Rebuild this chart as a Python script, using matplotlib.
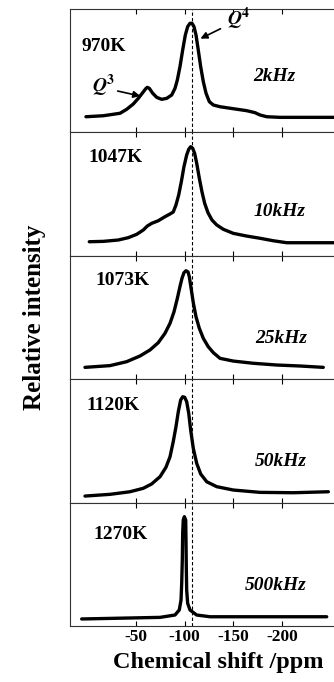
import numpy as np
import matplotlib as mpl
import matplotlib.pyplot as plt

# spectra: (chemical shift in ppm, relative intensity)
ppm_970 = [1.4, -16.4, -33.6, -40.4, -47.2, -52.4, -56.9, -60.0, -61.6, -63.7, -67.2,
           -71.3, -76.4, -81.6, -86.7, -90.1, -92.5, -95.2, -98.0, -100.7, -103.1,
           -105.5, -107.6, -109.6, -111.7, -114.0, -116.5, -119.2, -122.0, -125.4,
           -129.5, -136.4, -150.0, -163.8, -172.3, -177.5, -184.4, -198.0, -253.5]
int_970 = [0.127, 0.135, 0.155, 0.187, 0.230, 0.276, 0.322, 0.354, 0.365, 0.357, 0.317,
           0.284, 0.268, 0.276, 0.303, 0.357, 0.425, 0.532, 0.668, 0.789, 0.857,
           0.884, 0.884, 0.857, 0.789, 0.668, 0.532, 0.411, 0.317, 0.249,
           0.222, 0.208, 0.192, 0.176, 0.160, 0.141, 0.127, 0.122, 0.122]

ppm_1047 = [-2.0, -16.4, -31.8, -42.1, -50.7, -57.5, -61.6, -66.1, -72.9, -79.8, -85.0,
            -88.3, -91.1, -93.9, -96.6, -99.3, -102.1, -104.2, -106.2, -108.3, -110.3,
            -112.4, -115.1, -117.8, -120.6, -124.0, -128.1, -133.0, -139.7, -150.0,
            -163.8, -177.5, -191.1, -204.9, -253.5]
int_1047 = [0.114, 0.117, 0.128, 0.147, 0.174, 0.209, 0.241, 0.263, 0.284, 0.317, 0.339,
            0.355, 0.412, 0.493, 0.600, 0.722, 0.817, 0.863, 0.884, 0.871, 0.830,
            0.750, 0.628, 0.519, 0.425, 0.349, 0.290, 0.250, 0.215, 0.182,
            0.160, 0.142, 0.122, 0.106, 0.106]

ppm_1073 = [2.4, -23.3, -40.4, -54.1, -64.4, -72.9, -79.8, -85.0, -89.1, -92.5, -95.2,
            -97.3, -99.3, -101.4, -103.5, -104.8, -106.9, -109.0, -111.7, -115.1,
            -119.2, -124.3, -129.5, -136.4, -150.0, -170.6, -194.6, -218.6, -242.5]
int_1073 = [0.096, 0.110, 0.142, 0.188, 0.237, 0.296, 0.372, 0.453, 0.547, 0.655, 0.750,
            0.818, 0.863, 0.879, 0.869, 0.831, 0.723, 0.615, 0.506, 0.412,
            0.331, 0.263, 0.215, 0.169, 0.147, 0.129, 0.115, 0.107, 0.096]

ppm_1120 = [2.4, -23.3, -43.8, -57.5, -66.1, -74.7, -80.8, -85.0, -88.3, -91.1, -93.5,
            -95.9, -98.0, -100.1, -102.1, -104.2, -106.2, -108.9, -112.4, -116.5,
            -122.7, -133.0, -150.0, -177.5, -211.7, -247.7]
int_1120 = [0.053, 0.067, 0.088, 0.116, 0.151, 0.210, 0.286, 0.372, 0.494, 0.615, 0.737,
            0.831, 0.858, 0.853, 0.818, 0.724, 0.588, 0.440, 0.318, 0.232,
            0.169, 0.129, 0.102, 0.083, 0.080, 0.088]

ppm_1270 = [5.8, -43.8, -74.7, -90.1, -94.5, -96.3, -97.0, -97.6, -98.0, -98.6, -99.7,
            -101.1, -101.4, -101.7, -102.1, -103.1, -105.5, -112.4, -126.1, -246.0]
int_1270 = [0.057, 0.065, 0.070, 0.089, 0.130, 0.211, 0.348, 0.535, 0.754, 0.859, 0.886,
            0.859, 0.697, 0.481, 0.292, 0.184, 0.130, 0.089, 0.075, 0.075]

temps = ['970K', '1047K', '1073K', '1120K', '1270K']
rates = ['2kHz', '10kHz', '25kHz', '50kHz', '500kHz']
spectra = [(ppm_970, int_970), (ppm_1047, int_1047), (ppm_1073, int_1073),
           (ppm_1120, int_1120), (ppm_1270, int_1270)]
tick_ppm = [-50, -100, -150, -200]
tick_labels = ['-50', '-100', '-150', '-200']
ref_ppm = -107.6

# label placement (ppm, intensity)
temp_pos = [(5.5, 0.70), (-0.7, 0.80), (-7.9, 0.80), (1.4, 0.79), (-5.8, 0.74)]
rate_pos = [(-170.3, 0.45), (-171.3, 0.36), (-172.3, 0.33), (-172.3, 0.33), (-162.0, 0.33)]

mpl.rcParams['font.family'] = ['Liberation Serif', 'DejaVu Serif']
mpl.rcParams['mathtext.fontset'] = 'stix'

fig, axes = plt.subplots(5, 1, figsize=(3.34, 6.82), dpi=100, sharex=True)
fig.subplots_adjust(left=0.2096, right=1.0, top=0.9868, bottom=0.0821, hspace=0)

for i, ax in enumerate(axes):
    x, y = spectra[i]
    ax.plot(x, y, color='black', lw=2.4, solid_capstyle='round', solid_joinstyle='round')
    ax.axvline(ref_ppm, color='black', lw=0.8, ls=(0, (3, 2)))
    ax.set_xlim(17.8, -253.5)
    ax.set_ylim(0, 1)
    ax.set_yticks([])
    ax.set_xticks(tick_ppm)
    ax.tick_params(axis='x', direction='in', top=True, bottom=True, length=3.5, width=0.8,
                   labelbottom=(i == 4), labelsize=12.5, pad=2.5)
    for side in ['top', 'bottom', 'left']:
        ax.spines[side].set_linewidth(0.8)
        ax.spines[side].set_color('#333333')
    ax.spines['right'].set_visible(False)
    ax.text(temp_pos[i][0], temp_pos[i][1], temps[i], fontsize=14, fontweight='bold',
            ha='left', va='center')
    ax.text(rate_pos[i][0], rate_pos[i][1], rates[i], fontsize=14, fontweight='bold',
            fontstyle='italic', ha='left', va='center')

axes[4].set_xticklabels(tick_labels, fontweight='bold')

# Q3 / Q4 markers on the top spectrum
ax0 = axes[0]
ax0.text(-143.5, 0.92, r'$\mathbfit{Q}^{\mathbf{4}}$', fontsize=14, ha='left', va='center')
ax0.annotate('', xy=(-113.7, 0.75), xytext=(-139.4, 0.85),
             arrowprops=dict(arrowstyle='-|>', color='black', lw=1.2, mutation_scale=10))
ax0.text(-4.8, 0.38, r'$\mathbfit{Q}^{\mathbf{3}}$', fontsize=14, ha='left', va='center')
ax0.annotate('', xy=(-57.2, 0.29), xytext=(-28.4, 0.34),
             arrowprops=dict(arrowstyle='-|>', color='black', lw=1.2, mutation_scale=10))

fig.text(0.653, 0.020, 'Chemical shift /ppm', fontsize=17.5, fontweight='bold',
         ha='center', va='baseline')
fig.text(0.102, 0.534, 'Relative intensity', fontsize=18, fontweight='bold',
         rotation=90, ha='center', va='center')

fig.savefig('out.png', dpi=100)
